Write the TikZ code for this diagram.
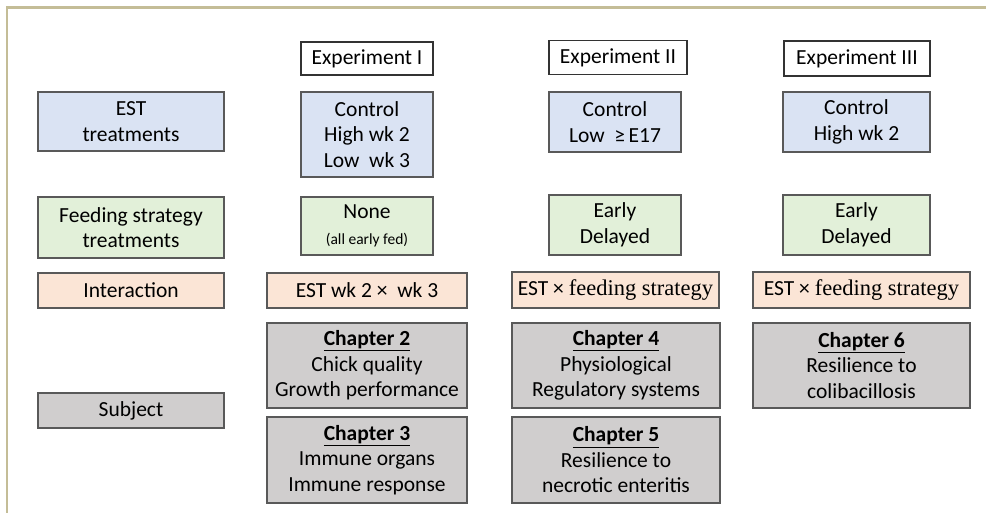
\documentclass[tikz,border=0pt]{standalone}
\usepackage{fontspec}
\setmainfont{Carlito}
\newfontfamily\timesfont{Liberation Serif}
\usetikzlibrary{positioning}
\definecolor{estblue}{HTML}{DAE3F3}
\definecolor{feedgreen}{HTML}{E2F0D9}
\definecolor{interorange}{HTML}{FBE5D6}
\definecolor{chapgrey}{HTML}{D0CECE}
\definecolor{boxline}{HTML}{595959}
\definecolor{framekhaki}{HTML}{C4BD97}
\tikzset{
	cellbox/.style = {shape=rectangle, draw=boxline, line width=1.2pt,
		anchor=center, align=center, inner sep=0pt,
		font=\fontsize{21.5}{25.5}\selectfont},
	expbox/.style   = {cellbox, fill=white, draw=black!80},
	estbox/.style   = {cellbox, fill=estblue},
	feedbox/.style  = {cellbox, fill=feedgreen},
	interbox/.style = {cellbox, fill=interorange},
	chapbox/.style  = {cellbox, fill=chapgrey},
	size/.style 2 args = {minimum width=#1pt, minimum height=#2pt}
}
\newcommand{\chap}[1]{\underline{\textbf{Chapter #1}}}
\newcommand{\tms}[1]{{\timesfont\fontsize{22.5}{25.5}\selectfont #1}}

\begin{document}
\begin{tikzpicture}[x=1pt, y=-1pt]
	\useasboundingbox (0,0) rectangle (986,513);
	% frame
	\draw[framekhaki, line width=2.5pt] (7,513) -- (7,7.5) -- (986,7.5);

	% experiment headers
	\node[expbox, size={132}{33}] (expI)   at (367,58.5) {Experiment I};
	\node[expbox, size={138}{34}] (expII)  at (618,57.5) {Experiment II};
	\node[expbox, size={146}{35}] (expIII) at (857,58.5) {Experiment III};

	% row labels
	\node[estbox,   size={186}{59}] (estlbl)   at (131,121.5) {EST\\treatments};
	\node[feedbox,  size={186}{61}] (feedlbl)  at (131,227.5) {Feeding strategy\\treatments};
	\node[interbox, size={186}{35}] (interlbl) at (131,290.5) {Interaction};
	\node[chapbox,  size={186}{35}] (subjlbl)  at (131,410.5) {Subject};

	% EST treatments
	\node[estbox, size={132}{85}] (estI)   at (367,134.5) {Control\\High wk 2\\Low\ \ wk 3};
	\node[estbox, size={132}{60}] (estII)  at (615,122)   {Control\\Low\ \ ≥\,E17};
	\node[estbox, size={147}{60}] (estIII) at (856.5,122) {Control\\High wk 2};

	% feeding strategy
	\node[feedbox, size={132}{58}] (feedI)   at (367,226)   {None\\{\fontsize{15.5}{18}\selectfont (all early fed)}};
	\node[feedbox, size={132}{60}] (feedII)  at (615,225)   {Early\\Delayed};
	\node[feedbox, size={147}{60}] (feedIII) at (856.5,225) {Early\\Delayed};

	% interaction
	\node[interbox, size={200}{35}] (interI)   at (367,290.5)   {EST wk 2 ×\ \ wk 3};
	\node[interbox, size={207}{36}] (interII)  at (615.5,290)   {EST × \tms{feeding strategy}};
	\node[interbox, size={217}{36}] (interIII) at (861.5,290)   {EST × \tms{feeding strategy}};

	% chapters
	\node[chapbox, size={200}{85}] (chII)  at (367,365.5)   {\chap{2}\\Chick quality\\Growth performance};
	\node[chapbox, size={200}{86}] (chIII) at (367,460)     {\chap{3}\\Immune organs\\Immune response};
	\node[chapbox, size={208}{85}] (chIV)  at (616,365.5)   {\chap{4}\\Physiological\\Regulatory systems};
	\node[chapbox, size={208}{86}] (chV)   at (616,460)     {\chap{5}\\Resilience to\\necrotic enteritis};
	\node[chapbox, size={217}{85}] (chVI)  at (861.5,365.5) {\chap{6}\\Resilience to\\colibacillosis};
\end{tikzpicture}
\end{document}
